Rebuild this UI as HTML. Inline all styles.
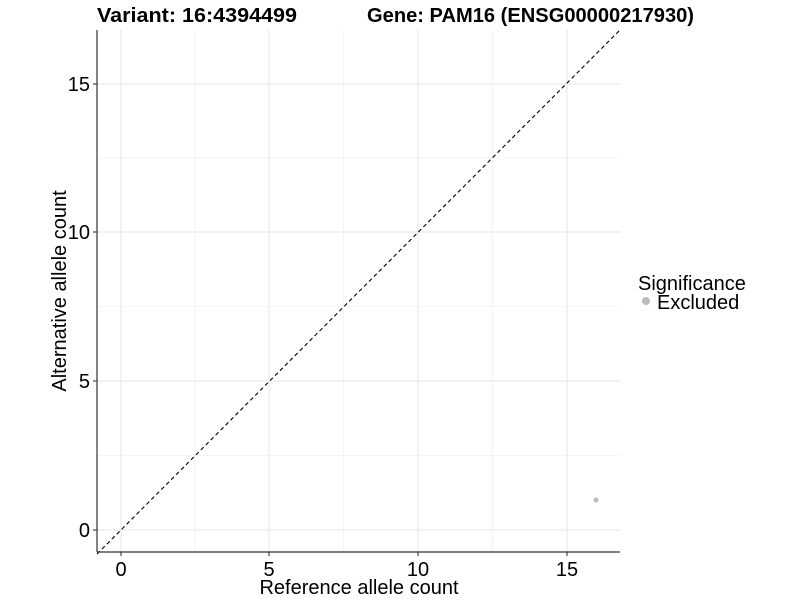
<!DOCTYPE html>
<html><head><style>body{margin:0;background:#fff}svg{display:block}</style></head><body>
<svg width="800" height="600" xmlns="http://www.w3.org/2000/svg" font-family="Liberation Sans, Arial, sans-serif">
<rect width="800" height="600" fill="#fff"/>
<g stroke="#ebebeb" stroke-width="0.6">
<line x1="97" x2="620" y1="455.5" y2="455.5"/><line x1="97" x2="620" y1="306.5" y2="306.5"/><line x1="97" x2="620" y1="158" y2="158"/>
<line x1="195" x2="195" y1="30" y2="552"/><line x1="343.5" x2="343.5" y1="30" y2="552"/><line x1="492.5" x2="492.5" y1="30" y2="552"/>
</g>
<g stroke="#e6e6e6" stroke-width="1.1">
<line x1="97" x2="620" y1="530" y2="530"/><line x1="97" x2="620" y1="381" y2="381"/><line x1="97" x2="620" y1="232" y2="232"/><line x1="97" x2="620" y1="84" y2="84"/>
<line x1="121" x2="121" y1="30" y2="552"/><line x1="269" x2="269" y1="30" y2="552"/><line x1="418" x2="418" y1="30" y2="552"/><line x1="567" x2="567" y1="30" y2="552"/>
</g>
<line x1="97" y1="554" x2="620" y2="30" stroke="#000" stroke-width="1.1" stroke-dasharray="4,3"/>
<circle cx="596" cy="500" r="2.5" fill="#bdbdbd"/>
<line x1="97" y1="30" x2="97" y2="552" stroke="#333" stroke-width="1.2"/>
<line x1="97" y1="552" x2="620" y2="552" stroke="#333" stroke-width="1.2"/>
<g stroke="#333" stroke-width="1.1">
<line x1="93" x2="97" y1="530" y2="530"/><line x1="93" x2="97" y1="381" y2="381"/><line x1="93" x2="97" y1="232" y2="232"/><line x1="93" x2="97" y1="84" y2="84"/>
<line x1="121" x2="121" y1="552" y2="556"/><line x1="269" x2="269" y1="552" y2="556"/><line x1="418" x2="418" y1="552" y2="556"/><line x1="567" x2="567" y1="552" y2="556"/>
</g>
<g font-size="20" fill="#000" text-anchor="end">
<text x="90" y="537">0</text><text x="90" y="388">5</text><text x="90" y="239">10</text><text x="90" y="91">15</text>
</g>
<g font-size="20" fill="#000" text-anchor="middle">
<text x="121" y="576">0</text><text x="269" y="576">5</text><text x="418" y="576">10</text><text x="567" y="576">15</text>
<text x="359" y="594">Reference allele count</text>
<text transform="translate(66,291) rotate(-90)">Alternative allele count</text>
</g>
<g font-size="20" font-weight="bold" fill="#000">
<text x="97" y="22" textLength="200" lengthAdjust="spacingAndGlyphs">Variant: 16:4394499</text>
<text x="367" y="22" textLength="327" lengthAdjust="spacingAndGlyphs">Gene: PAM16 (ENSG00000217930)</text>
</g>
<text x="638" y="290" font-size="20">Significance</text>
<circle cx="646" cy="301" r="4" fill="#bdbdbd"/>
<text x="657" y="309" font-size="20">Excluded</text>
</svg>
</body></html>
